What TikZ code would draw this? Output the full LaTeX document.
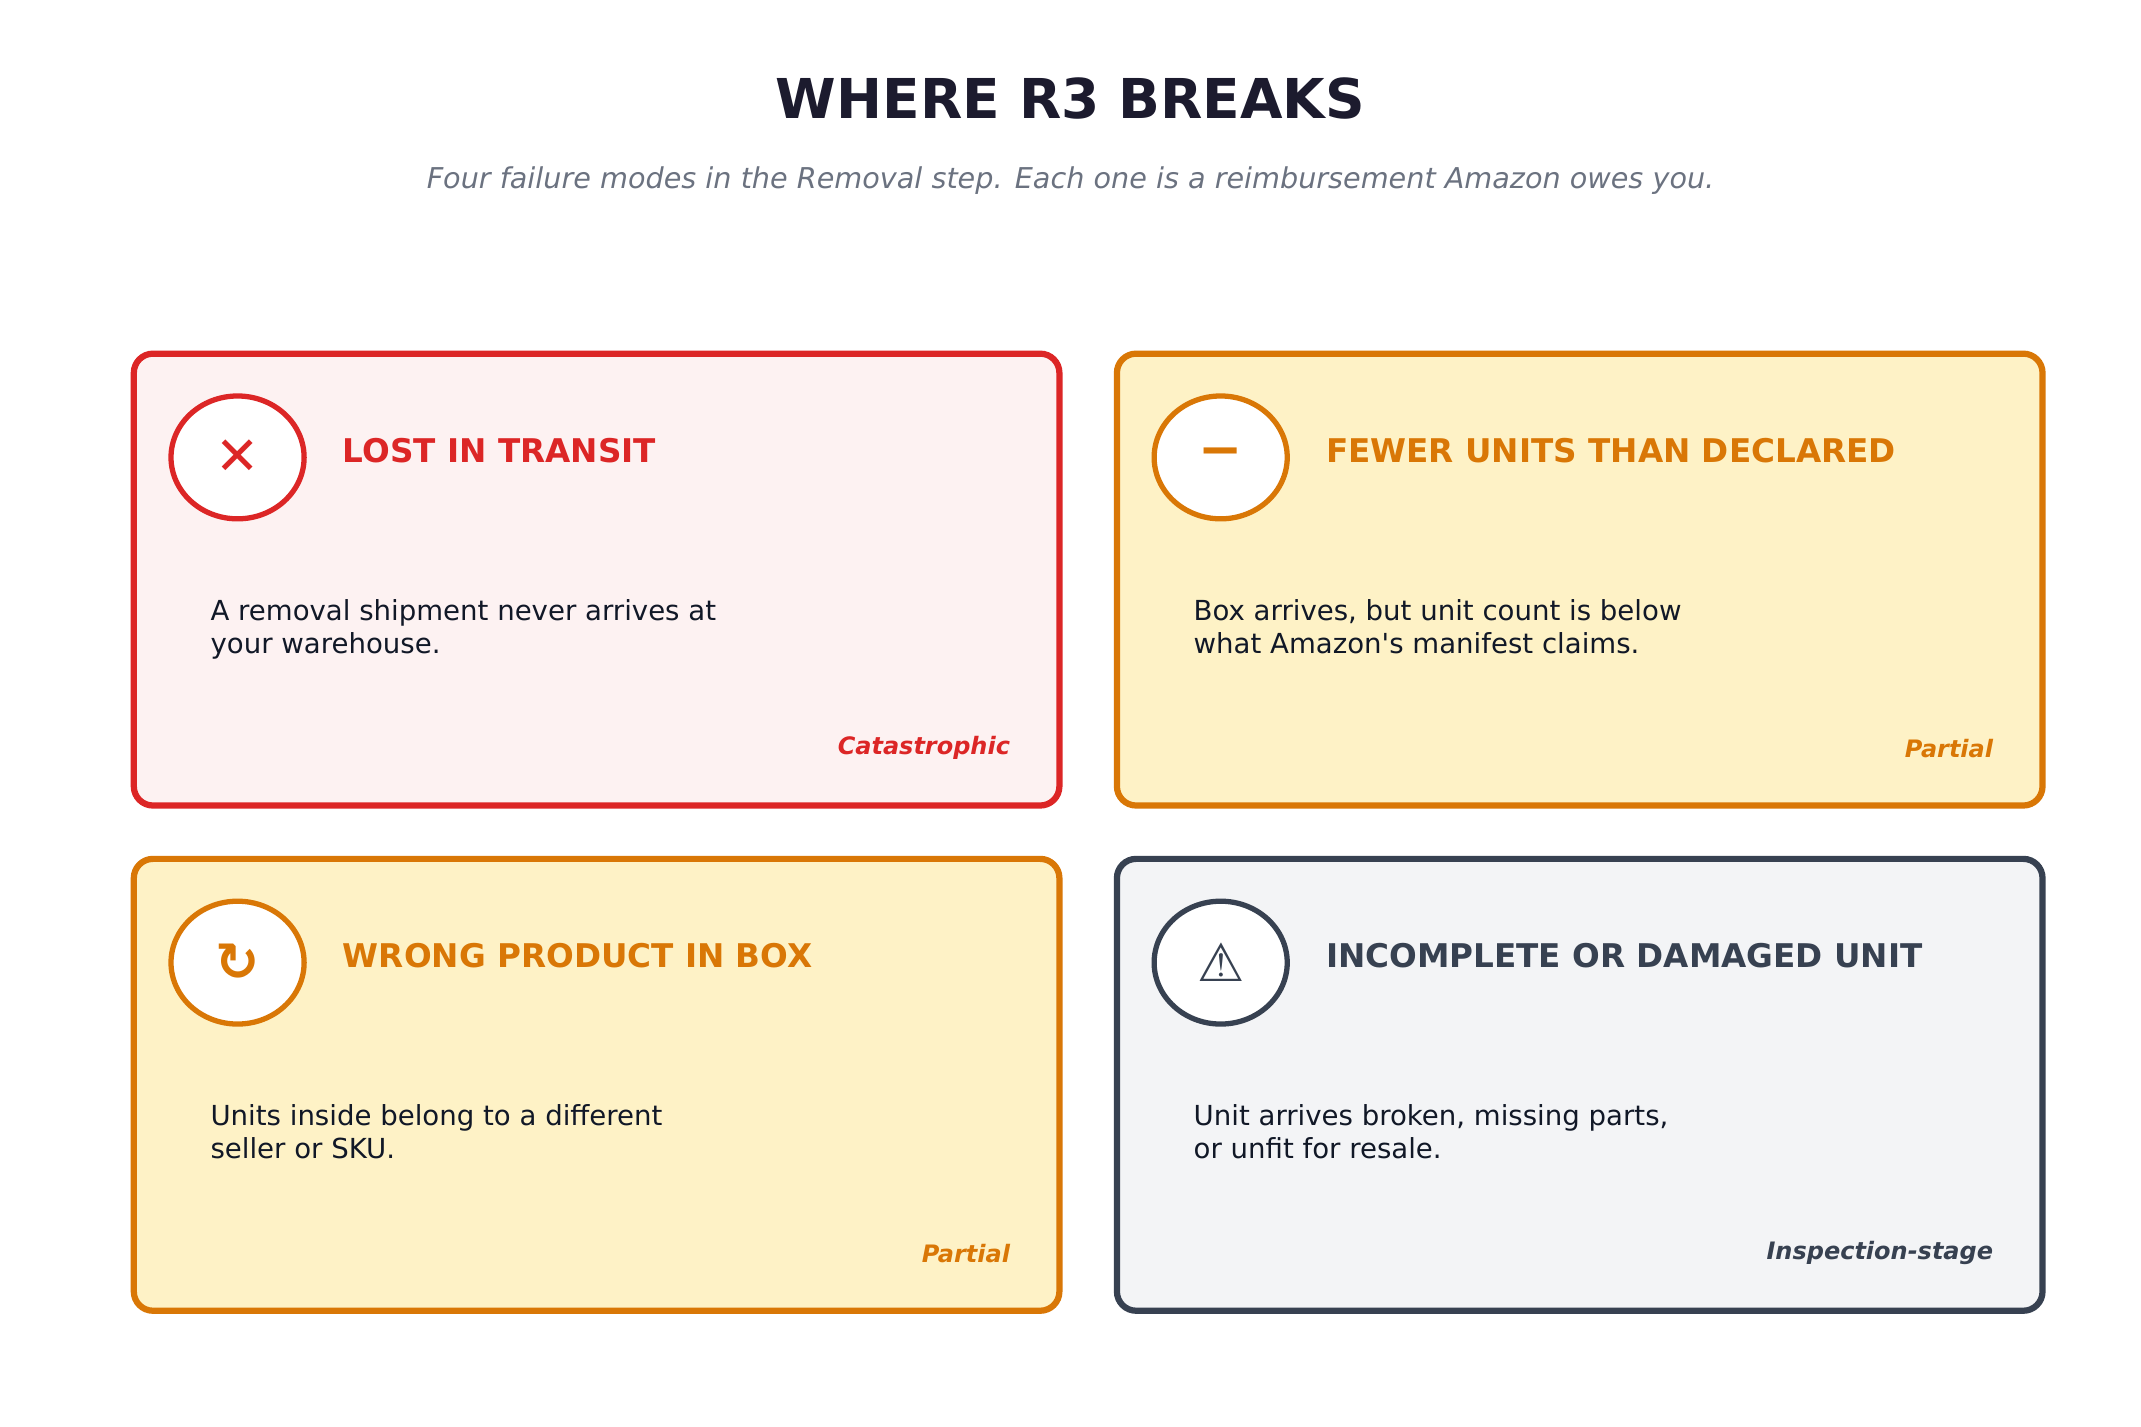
\documentclass[tikz,border=0pt]{standalone}
\usepackage{fontspec}
\setmainfont{DejaVu Sans}
\usetikzlibrary{positioning}
\definecolor{redc}{HTML}{DC2626}
\definecolor{redbg}{HTML}{FDF2F2}
\definecolor{orgc}{HTML}{D97706}
\definecolor{orgbg}{HTML}{FEF2C6}
\definecolor{gryc}{HTML}{374151}
\definecolor{grybg}{HTML}{F3F4F6}
\definecolor{titlec}{HTML}{1C1B2E}
\definecolor{subc}{HTML}{6B7280}
\definecolor{bodyc}{HTML}{111827}
\tikzset{
  card/.style={draw=#1, line width=2.6pt, rounded corners=8pt, anchor=north west,
    minimum width=13.56cm, minimum height=6.62cm, inner sep=0pt, outer sep=0pt},
  badge/.style={draw=#1, line width=2.2pt, fill=white, ellipse, minimum width=1.95cm,
    minimum height=1.8cm, inner sep=0pt, text=#1, font=\fontsize{22}{22}\selectfont},
  heading/.style={text=#1, font=\bfseries\fontsize{13.6}{16}\selectfont, anchor=west},
  body/.style={text=bodyc, font=\fontsize{11.5}{13.5}\selectfont, align=left, anchor=north west},
  tag/.style={text=#1, font=\bfseries\itshape\fontsize{10}{12}\selectfont, anchor=east}
}
\usetikzlibrary{shapes.geometric}
% one card of the grid
\newcommand{\failcard}[9]{%
  \node[card=#4, fill=#5] (#1) at (#2,#3) {};
  \node[badge=#4] (#1icon) at ([xshift=1.52cm,yshift=-1.52cm]#1.north west) {#6};
  \node[heading=#4] (#1title) at ([xshift=1.42cm,yshift=0.1cm]#1icon.center) {#7};
  \node[body] (#1body) at ([xshift=1.0cm,yshift=-3.48cm]#1.north west) {#8};
  \node[tag=#4] (#1tag) at ([xshift=-0.6cm,yshift=-5.78cm]#1.north east) {#9};
}
\begin{document}
\begin{tikzpicture}[x=0.02cm,y=-0.02cm]
  \useasboundingbox (0,0) rectangle (1568,1045);
  \node[text=titlec, font=\bfseries\fontsize{22.9}{26}\selectfont] (title) at (784,72) {WHERE R3 BREAKS};
  \node[text=subc, font=\itshape\fontsize{11.95}{14}\selectfont] (subtitle) at (784,132)
    {Four failure modes in the Removal step. Each one is a reimbursement Amazon owes you.};
  \failcard{lost}{98}{259}{redc}{redbg}{\textbf{✕}}{LOST IN TRANSIT}
    {A removal shipment never arrives at\\your warehouse.}{Catastrophic}
  \failcard{fewer}{818}{259}{orgc}{orgbg}{\textbf{−}}{FEWER UNITS THAN DECLARED}
    {Box arrives, but unit count is below\\what Amazon\textquotesingle s manifest claims.}{Partial}
  \failcard{wrong}{98}{629}{orgc}{orgbg}{\textbf{↻}}{WRONG PRODUCT IN BOX}
    {Units inside belong to a different\\seller or SKU.}{Partial}
  \failcard{damaged}{818}{629}{gryc}{grybg}{⚠}{INCOMPLETE OR DAMAGED UNIT}
    {Unit arrives broken, missing parts,\\or unfit for resale.}{Inspection-stage}
\end{tikzpicture}
\end{document}
